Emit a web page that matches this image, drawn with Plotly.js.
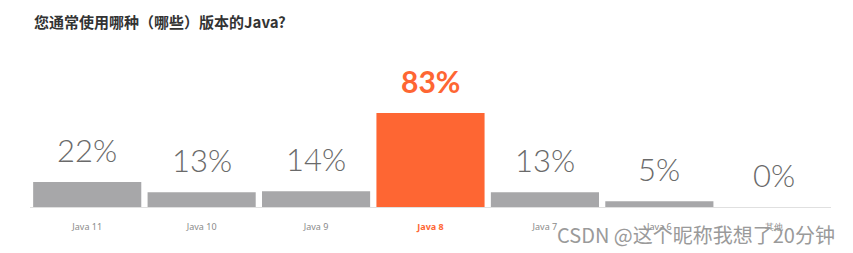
<!DOCTYPE html>
<html>
<head>
<meta charset="utf-8">
<script src="https://cdn.plot.ly/plotly-3.0.1.min.js"></script>
<style>html,body{margin:0;padding:0;background:#fff;}#chart{width:853px;height:253px;}</style>
</head>
<body>
<div id="chart"></div>
<script>
const categories = ["Java 11", "Java 10", "Java 9", "Java 8", "Java 7", "Java 6", "其他"];
const values = [22, 13, 14, 83, 13, 5, 0];
const valueLabels = ["22%", "13%", "14%", "83%", "13%", "5%", "0%"];
const highlight = "Java 8";
const titleText = "您通常使用哪种（哪些）版本的Java?";
const watermark = "CSDN @这个昵称我想了20分钟";

const ORANGE = "#fe6633";
const GREY = "#a7a7a9";

const colors = categories.map(c => c === highlight ? ORANGE : GREY);

const trace = {
  type: "bar",
  x: categories,
  y: values,
  marker: {color: colors},
  hoverinfo: "skip"
};

const annotations = categories.map((c, i) => {
  const hl = c === highlight;
  return {
    x: c, y: values[i], xref: "x", yref: "y",
    text: valueLabels[i],
    showarrow: false, yanchor: "bottom", yshift: hl ? 12 : 11,
    font: {family: "Lato", size: hl ? 30 : 31, weight: hl ? 700 : 300, color: hl ? ORANGE : "#6a6a6a"}
  };
});
annotations.push({
  xref: "paper", yref: "paper", x: 1.0075, y: -0.175, xanchor: "right", yanchor: "middle",
  text: watermark, showarrow: false,
  font: {family: "Noto Sans CJK SC", size: 20, color: "#9a9a9a"}
});

const ticktext = categories.map(c => c === highlight
  ? "<b><span style='color:" + ORANGE + "'>" + c + "</span></b>" : c);

const layout = {
  width: 853, height: 253,
  margin: {l: 30, r: 22, t: 50, b: 46},
  paper_bgcolor: "#fff", plot_bgcolor: "#fff",
  showlegend: false,
  bargap: 0.055,
  title: {
    text: "<b>" + titleText + "</b>",
    xref: "container", yref: "container", x: 34 / 853, y: 1 - 23 / 253,
    xanchor: "left", yanchor: "middle",
    font: {family: "Noto Sans CJK SC", size: 15, color: "#333"}
  },
  xaxis: {
    type: "category",
    tickvals: categories, ticktext: ticktext,
    showline: true, linecolor: "#e0e0e0", linewidth: 1,
    showgrid: false, zeroline: false,
    ticks: "outside", ticklen: 11, tickcolor: "rgba(0,0,0,0)",
    tickfont: {family: "Noto Sans", size: 9, color: "#8a8a8a"}
  },
  yaxis: {
    range: [0, 138.6], visible: false, showgrid: false, zeroline: false, fixedrange: true
  },
  annotations: annotations
};

Plotly.newPlot("chart", [trace], layout, {displayModeBar: false, staticPlot: true});
</script>
</body>
</html>
